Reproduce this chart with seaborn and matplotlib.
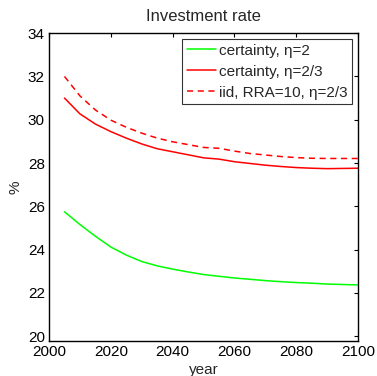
import matplotlib
matplotlib.use("Agg")
import matplotlib.pyplot as plt
import seaborn as sns
import pandas as pd

years = [2005, 2010, 2015, 2020, 2025, 2030, 2035, 2040, 2045, 2050,
         2055, 2060, 2065, 2070, 2075, 2080, 2085, 2090, 2095, 2100]
certainty_eta2 = [25.75, 25.16, 24.62, 24.12, 23.75, 23.45, 23.25, 23.10, 22.97, 22.85,
                  22.77, 22.69, 22.63, 22.57, 22.52, 22.48, 22.45, 22.41, 22.39, 22.37]
certainty_eta23 = [31.00, 30.27, 29.80, 29.45, 29.15, 28.88, 28.66, 28.52, 28.38, 28.24,
                   28.18, 28.06, 27.98, 27.90, 27.84, 27.79, 27.76, 27.74, 27.75, 27.76]
iid_rra10 = [32.00, 31.10, 30.45, 29.98, 29.65, 29.38, 29.15, 28.98, 28.85, 28.72,
             28.68, 28.55, 28.44, 28.37, 28.30, 28.25, 28.22, 28.21, 28.21, 28.21]
labels = ["certainty, η=2", "certainty, η=2/3", "iid, RRA=10, η=2/3"]

sns.set_style("white")
plt.rcParams['font.family'] = ['Liberation Sans', 'DejaVu Sans']

fig = plt.figure(figsize=(3.77, 3.76), dpi=100)
ax = fig.add_axes([0.13, 0.093, 0.82, 0.819])

df = pd.DataFrame({"year": years * 3,
                   "value": certainty_eta2 + certainty_eta23 + iid_rra10,
                   "series": [labels[0]] * len(years) + [labels[1]] * len(years) + [labels[2]] * len(years)})

sns.lineplot(data=df[df.series == labels[0]], x="year", y="value", ax=ax,
             color=(0, 1, 0), lw=1.1, label=labels[0])
sns.lineplot(data=df[df.series == labels[1]], x="year", y="value", ax=ax,
             color=(1, 0, 0), lw=1.1, label=labels[1])
sns.lineplot(data=df[df.series == labels[2]], x="year", y="value", ax=ax,
             color=(1, 0, 0), lw=1.1, ls=(0, (4, 3)), label=labels[2])

ax.set_xlim(2000, 2100)
ax.set_ylim(19.78, 34)
ax.set_xticks(range(2000, 2101, 20))
ax.set_yticks(range(20, 35, 2))
ax.tick_params(direction="in", length=3, width=0.8, top=True, right=True,
               labelsize=11, colors="black", pad=3)
for s in ax.spines.values():
    s.set_color("black")
    s.set_linewidth(1.0)
ax.set_title("Investment rate", fontsize=12, pad=9)
ax.set_xlabel("year", fontsize=11, labelpad=2.5)
ax.set_ylabel("%", fontsize=11, labelpad=4)

leg = ax.legend(loc="upper right", fontsize=11, frameon=True, fancybox=False,
                handlelength=1.9, handletextpad=0.2, borderpad=0.3,
                labelspacing=0.45, borderaxespad=0.4)
leg.get_frame().set_edgecolor("black")
leg.get_frame().set_linewidth(0.8)

fig.savefig("out.png", dpi=100)
